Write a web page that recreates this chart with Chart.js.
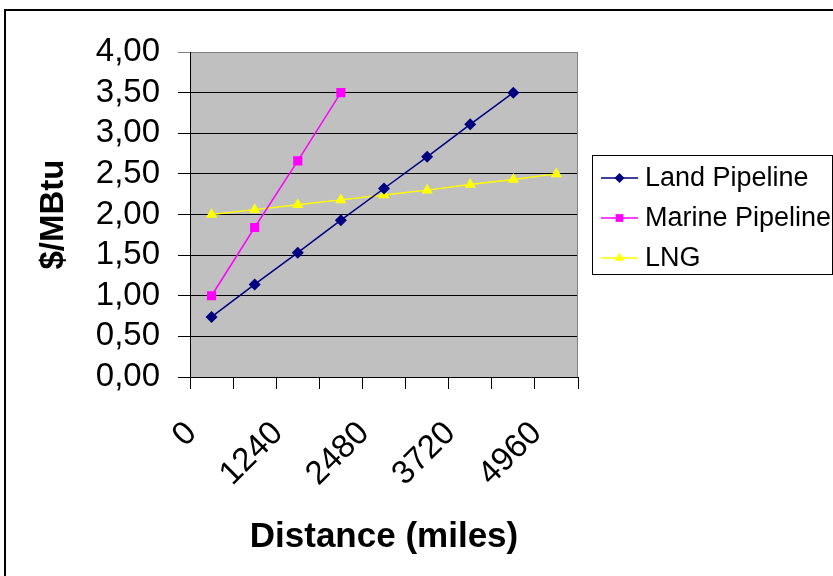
<!DOCTYPE html>
<html><head><meta charset="utf-8">
<script src="https://cdn.jsdelivr.net/npm/chart.js@4.4.1/dist/chart.umd.min.js"></script>
<style>html,body{margin:0;padding:0;background:#fff;}canvas{display:block;}</style>
</head><body>
<canvas id="c" width="833" height="576"></canvas>
<script>
const categories = ['0','620','1240','1860','2480','3100','3720','4340','4960'];
const landPipeline = [0.74,1.14,1.53,1.93,2.32,2.71,3.11,3.50,null];
const marinePipeline = [1.00,1.84,2.66,3.50,null,null,null,null,null];
const lng = [2.00,2.06,2.12,2.18,2.24,2.30,2.37,2.43,2.50];
const seriesNames = ['Land Pipeline','Marine Pipeline','LNG'];
const yTitle = '$/MBtu';
const xTitle = 'Distance (miles)';
const yMin = 0, yMax = 4, yStep = 0.5;

const FONT = '"Liberation Sans", Arial, sans-serif';

function drawMarker(ctx, style, x, y, r, color){
  ctx.beginPath();
  if(style==='rectRot'){ctx.moveTo(x,y-r);ctx.lineTo(x+r,y);ctx.lineTo(x,y+r);ctx.lineTo(x-r,y);}
  else if(style==='rect'){const s=r*Math.SQRT1_2;ctx.rect(x-s,y-s,2*s,2*s);}
  else if(style==='triangle'){ctx.moveTo(x,y-r);ctx.lineTo(x+r*0.866,y+r*0.5);ctx.lineTo(x-r*0.866,y+r*0.5);}
  ctx.closePath();
  ctx.fillStyle=color; ctx.fill();
}

const decorPlugin = {
  id:'decor',
  beforeDraw(chart){
    const {ctx, chartArea:a} = chart;
    ctx.save();
    ctx.fillStyle='#fff'; ctx.fillRect(0,0,chart.width,chart.height);
    ctx.strokeStyle='#000'; ctx.lineWidth=2; ctx.strokeRect(5,10,1000,1000);
    ctx.fillStyle='#C0C0C0'; ctx.fillRect(a.left,a.top,a.right-a.left,a.bottom-a.top);
    ctx.restore();
  },
  afterDraw(chart){
    const {ctx, chartArea:a} = chart;
    ctx.save();
    ctx.strokeStyle='#808080'; ctx.lineWidth=1;
    ctx.beginPath(); ctx.moveTo(Math.round(a.right)-0.5, a.top); ctx.lineTo(Math.round(a.right)-0.5, a.bottom); ctx.stroke();
    // legend
    const lx=592, ly=155, lw=240, lh=119;
    ctx.strokeStyle='#000'; ctx.lineWidth=1;
    ctx.strokeRect(lx+0.5, ly+0.5, lw, lh);
    ctx.font = '27px '+FONT; ctx.textBaseline='middle'; ctx.textAlign='left';
    chart.data.datasets.forEach((ds,i)=>{
      const y = ly+23+i*40;
      ctx.strokeStyle=ds.borderColor; ctx.lineWidth=1.5;
      ctx.beginPath(); ctx.moveTo(601,y); ctx.lineTo(638,y); ctx.stroke();
      drawMarker(ctx, ds.pointStyle, 619.5, y, ds.pointRadius-1, ds.borderColor);
      ctx.fillStyle='#000'; ctx.fillText(ds.label, 645, y+1);
    });
    ctx.restore();
  }
};

new Chart(document.getElementById('c'), {
  type:'line',
  data:{
    labels:categories,
    datasets:[
      {label:seriesNames[0], data:landPipeline, borderColor:'#000080', backgroundColor:'#000080', pointStyle:'rectRot', pointRadius:6, pointBorderWidth:0, borderWidth:1.5, tension:0},
      {label:seriesNames[1], data:marinePipeline, borderColor:'#FF00FF', backgroundColor:'#FF00FF', pointStyle:'rect', pointRadius:6.5, pointBorderWidth:0, borderWidth:1.5, tension:0},
      {label:seriesNames[2], data:lng, borderColor:'#FFFF00', backgroundColor:'#FFFF00', pointStyle:'triangle', pointRadius:6.5, pointBorderWidth:0, borderWidth:1.5, tension:0}
    ]
  },
  options:{
    responsive:false, animation:false, devicePixelRatio:1,
    layout:{padding:{left:0,right:255,top:52,bottom:0}},
    plugins:{legend:{display:false}, tooltip:{enabled:false}},
    elements:{point:{hoverRadius:6}},
    scales:{
      x:{
        type:'category', offset:true,
        grid:{offset:true, drawOnChartArea:false, drawTicks:true, tickLength:12, color:'#000', lineWidth:1},
        border:{display:true, color:'#000', width:1},
        ticks:{autoSkip:false, minRotation:45, maxRotation:45, padding:25, labelOffset:-20, color:'#000',
          font:{family:FONT, size:33},
          callback:function(v,i){return i%2===0 ? this.getLabelForValue(v) : '';}},
        title:{display:true, text:xTitle, color:'#000', font:{family:FONT, size:35, weight:'bold'}, padding:{top:0,bottom:18}},
        afterFit:(s)=>{s.height=199;}
      },
      y:{
        min:yMin, max:yMax,
        ticks:{stepSize:yStep, autoSkip:false, padding:18, color:'#000', font:{family:FONT, size:33},
          callback:(v)=>Number(v).toFixed(2).replace('.',',')},
        grid:{color:(c)=> (c.tick && c.tick.value===yMax) ? '#808080' : '#000', tickLength:12, lineWidth:1},
        border:{display:true, color:'#000', width:1},
        title:{display:true, text:yTitle, color:'#000', font:{family:FONT, size:33, weight:'bold'}, padding:{top:34,bottom:0}},
        afterFit:(s)=>{s.width=190;}
      }
    }
  },
  plugins:[decorPlugin]
});
</script>
</body></html>
